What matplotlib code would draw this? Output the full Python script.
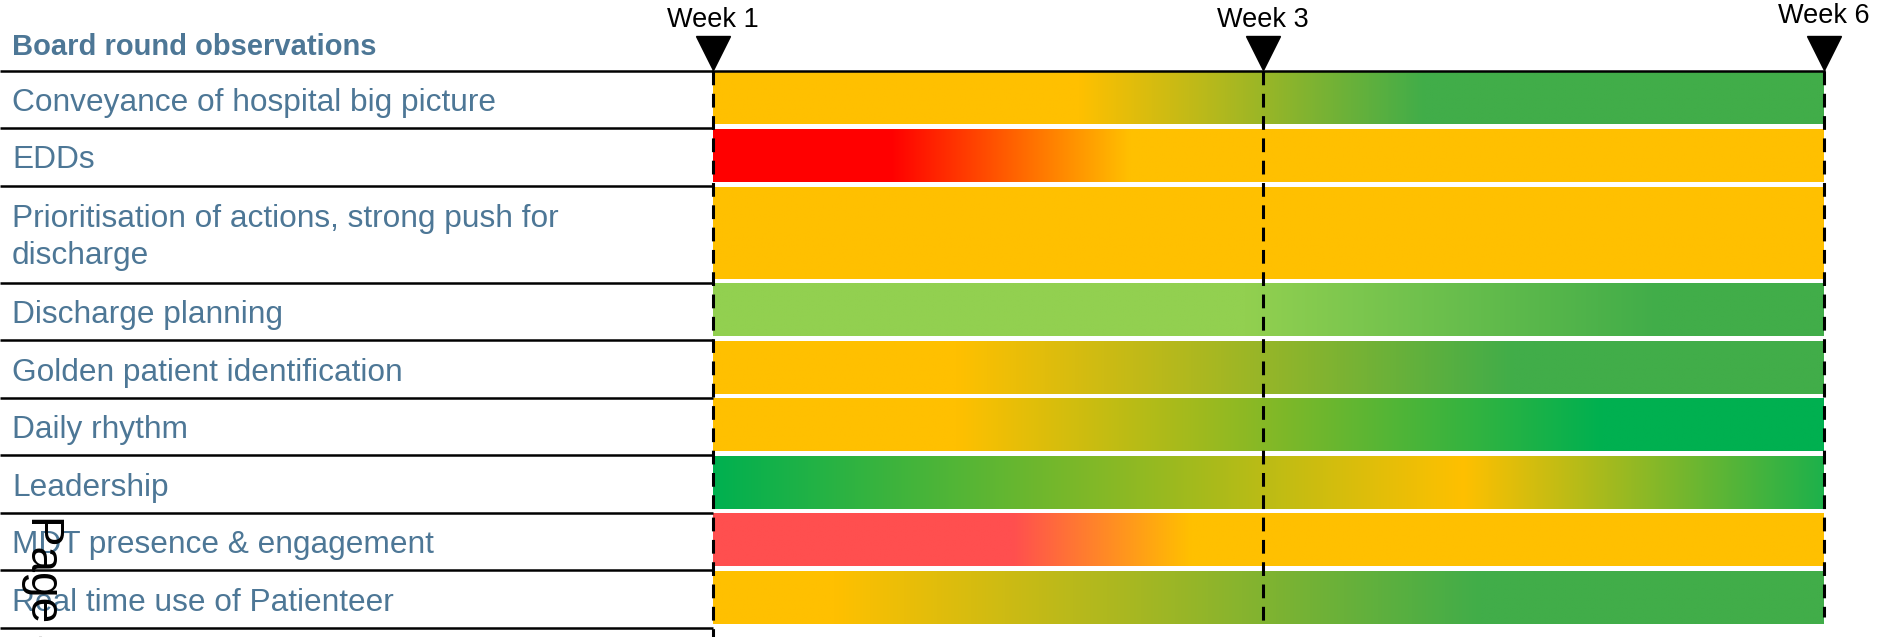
import numpy as np
import matplotlib
matplotlib.use("Agg")
import matplotlib.pyplot as plt
from matplotlib.colors import to_rgb

plt.rcParams['font.family'] = ['Liberation Sans', 'DejaVu Sans']

# data
header = "Board round observations"
categories = [
    "Conveyance of hospital big picture",
    "EDDs",
    "Prioritisation of actions, strong push for\ndischarge",
    "Discharge planning",
    "Golden patient identification",
    "Daily rhythm",
    "Leadership",
    "MDT presence & engagement",
    "Real time use of Patienteer",
]
row_heights = [1, 1, 1.69, 1, 1, 1, 1, 1, 1]

week_labels = ["Week 1", "Week 3", "Week 6"]
week_pos = [0.0, 0.495, 1.0]

ORANGE = '#FFC000'
GREEN = '#41AD49'
BGREEN = '#00B050'
LGREEN = '#92D050'
RED = '#FF0000'
LRED = '#FF4F4F'

# colour stops along the bar (0 = week 1, 1 = week 6)
gradients = [
    [(0, ORANGE), (0.33, ORANGE), (0.64, GREEN), (1, GREEN)],
    [(0, RED), (0.16, RED), (0.375, ORANGE), (1, ORANGE)],
    [(0, ORANGE), (1, ORANGE)],
    [(0, LGREEN), (0.48, LGREEN), (0.85, GREEN), (1, GREEN)],
    [(0, ORANGE), (0.22, ORANGE), (0.72, GREEN), (1, GREEN)],
    [(0, ORANGE), (0.22, ORANGE), (0.8, BGREEN), (1, BGREEN)],
    [(0, BGREEN), (0.676, ORANGE), (1, '#1DB14B')],
    [(0, LRED), (0.27, LRED), (0.43, ORANGE), (1, ORANGE)],
    [(0, ORANGE), (0.11, ORANGE), (0.69, GREEN), (1, GREEN)],
]

TEXT_COL = '#4D7796'

fig = plt.figure(figsize=(18.79, 6.37), dpi=100)
ax = fig.add_axes([0, 0, 1, 1])
ax.set_axis_off()

xs = np.linspace(0, 1, 600)
edges = np.concatenate([[0], np.cumsum(row_heights)])

for i, (name, stops) in enumerate(zip(categories, gradients)):
    top, bot = edges[i], edges[i + 1]
    pos = [s[0] for s in stops]
    cols = np.array([to_rgb(s[1]) for s in stops])
    img = np.stack([np.interp(xs, pos, cols[:, k]) for k in range(3)], axis=-1)
    ax.imshow(img[None, :, :], extent=(0, 1, bot - 0.07, top + 0.02),
              aspect='auto', interpolation='bilinear', zorder=1)
    ax.text(-0.631, (top + bot) / 2 + 0.06, name, color=TEXT_COL, fontsize=22.8,
            va='center', ha='left', linespacing=1.3)

xl = (-0.6418, 1.0495)
# row separators in the label column
for e in edges:
    ax.plot([xl[0], 0], [e, e], color='black', lw=1.8, zorder=3,
            solid_capstyle='butt')
ax.plot([0, 1], [0, 0], color='black', lw=1.8, zorder=3)

ax.text(-0.631, -0.42, header, color=TEXT_COL, fontsize=21,
        fontweight='bold', va='center', ha='left')

# week markers
ends = [11, edges[-1], 9.5]
for lab, p, e in zip(week_labels, week_pos, ends):
    ax.plot([p, p], [0, e], color='black', lw=2.2, linestyle=(0, (4.5, 2.8)),
            zorder=4)
    ax.plot(p, -0.3, marker='v', markersize=24, color='black', zorder=5)
    ax.text(p, -0.89 if p < 1 else -0.95, lab, fontsize=19.5, ha='center',
            va='center', color='black')

ax.text(-0.603, 7.72, "Page 4", fontsize=33, rotation=-90, ha='center',
        va='top', color='black', zorder=6)

ax.set_xlim(*xl)
ax.set_ylim(9.85, -1.23)

fig.savefig("out.png", dpi=100)
